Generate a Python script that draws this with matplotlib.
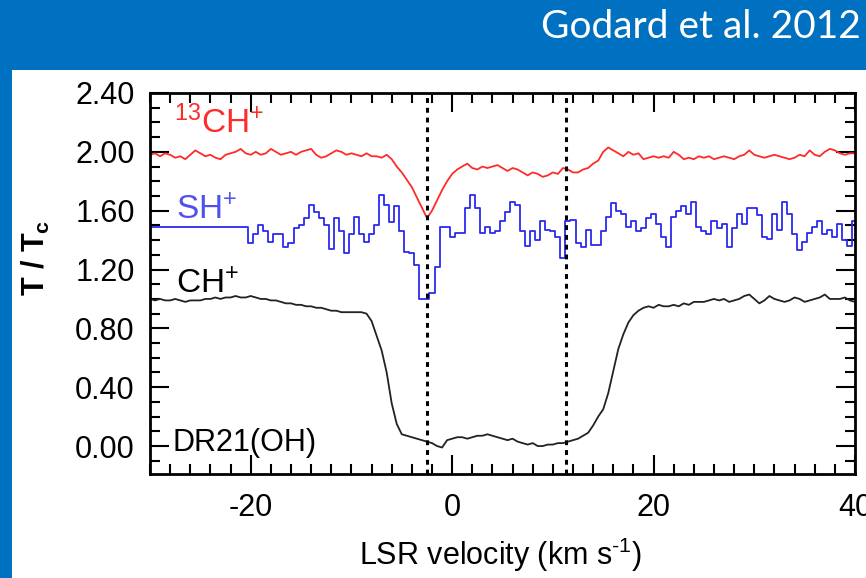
import numpy as np
import matplotlib.pyplot as plt
from matplotlib.patches import Rectangle
from matplotlib.ticker import MultipleLocator, FormatStrFormatter

plt.rcParams['font.family'] = ['Liberation Sans', 'DejaVu Sans']
plt.rcParams['mathtext.fontset'] = 'custom'
plt.rcParams['mathtext.rm'] = 'Liberation Sans'
plt.rcParams['mathtext.it'] = 'Liberation Sans:italic'
plt.rcParams['mathtext.bf'] = 'Liberation Sans:bold'
plt.rcParams['axes.unicode_minus'] = False

# channel velocities (km/s), 0.5 km/s spacing from -30 to 40
vel = np.arange(-30, 40.25, 0.5)

# CH+ (black)
ch_plus = [
    1.00, 0.99, 1.00, 0.99, 0.99, 1.00, 0.99, 0.98, 0.99, 0.99,
    0.99, 1.00, 1.00, 1.01, 1.00, 1.01, 1.01, 1.02, 1.01, 1.01,
    1.02, 1.01, 1.00, 1.00, 0.99, 0.99, 0.98, 0.97, 0.97, 0.96,
    0.96, 0.95, 0.95, 0.94, 0.94, 0.93, 0.92, 0.92, 0.91, 0.91,
    0.91, 0.91, 0.91, 0.90, 0.85, 0.75, 0.65, 0.50, 0.29, 0.15,
    0.08, 0.07, 0.06, 0.05, 0.04, 0.03, 0.02, 0.00, -0.01, 0.04,
    0.05, 0.06, 0.06, 0.05, 0.06, 0.07, 0.07, 0.08, 0.07, 0.06,
    0.05, 0.04, 0.05, 0.03, 0.02, 0.01, 0.02, 0.00, 0.00, 0.01,
    0.01, 0.02, 0.02, 0.03, 0.04, 0.05, 0.07, 0.09, 0.14, 0.20,
    0.25, 0.36, 0.51, 0.66, 0.76, 0.84, 0.89, 0.92, 0.94, 0.95,
    0.94, 0.96, 0.95, 0.95, 0.96, 0.95, 0.97, 0.96, 0.98, 0.98,
    0.98, 0.99, 1.00, 0.99, 1.00, 0.98, 0.99, 1.00, 1.02, 1.03,
    1.00, 0.97, 0.99, 1.02, 1.00, 0.99, 0.98, 0.99, 1.01, 1.00,
    0.98, 0.99, 1.00, 1.01, 1.03, 1.00, 1.00, 1.00, 1.01, 0.99,
    0.98,
]

# 13CH+ (red, offset by +1)
ch13_plus = [
    1.98, 1.99, 1.97, 1.99, 1.98, 1.96, 1.97, 1.95, 1.98, 2.01,
    1.99, 1.97, 1.98, 1.96, 1.95, 1.98, 1.99, 2.00, 2.02, 1.99,
    1.98, 2.00, 1.98, 1.99, 2.02, 2.00, 1.98, 1.99, 2.00, 1.98,
    2.00, 2.01, 2.02, 1.98, 1.96, 1.97, 1.99, 2.01, 2.00, 1.98,
    1.99, 1.98, 1.97, 1.99, 1.97, 1.97, 1.96, 1.98, 1.95, 1.90,
    1.86, 1.81, 1.76, 1.69, 1.62, 1.55, 1.60, 1.67, 1.74, 1.80,
    1.85, 1.88, 1.90, 1.92, 1.89, 1.88, 1.90, 1.89, 1.90, 1.91,
    1.89, 1.87, 1.89, 1.88, 1.86, 1.84, 1.86, 1.85, 1.83, 1.84,
    1.86, 1.85, 1.89, 1.88, 1.86, 1.86, 1.88, 1.89, 1.92, 1.94,
    2.00, 2.03, 2.01, 1.99, 1.97, 2.00, 1.98, 1.99, 1.95, 1.96,
    1.97, 1.96, 1.97, 1.96, 2.00, 1.98, 1.95, 1.96, 1.95, 1.97,
    1.96, 1.97, 1.95, 1.96, 1.97, 1.96, 1.95, 1.97, 1.98, 2.01,
    1.98, 1.97, 1.96, 1.97, 1.98, 1.97, 1.96, 1.95, 1.96, 1.98,
    1.97, 2.01, 1.98, 1.97, 2.00, 2.02, 2.01, 1.99, 1.98, 1.99,
    1.99,
]

# SH+ (blue, offset by +0.5)
sh_plus = [
    1.49, 1.49, 1.49, 1.49, 1.49, 1.49, 1.49, 1.49, 1.49, 1.49,
    1.49, 1.49, 1.49, 1.49, 1.49, 1.49, 1.49, 1.49, 1.49, 1.49,
    1.38, 1.44, 1.50, 1.46, 1.39, 1.44, 1.44, 1.35, 1.38, 1.48,
    1.50, 1.55, 1.64, 1.59, 1.55, 1.50, 1.34, 1.55, 1.46, 1.31,
    1.44, 1.56, 1.44, 1.39, 1.44, 1.50, 1.71, 1.64, 1.52, 1.63,
    1.46, 1.32, 1.31, 1.23, 1.00, 1.00, 1.04, 1.22, 1.49, 1.49,
    1.42, 1.45, 1.45, 1.62, 1.71, 1.62, 1.45, 1.49, 1.45, 1.46,
    1.53, 1.59, 1.66, 1.64, 1.46, 1.36, 1.46, 1.40, 1.53, 1.47,
    1.46, 1.42, 1.28, 1.53, 1.54, 1.38, 1.35, 1.47, 1.37, 1.37,
    1.46, 1.56, 1.65, 1.60, 1.58, 1.49, 1.53, 1.46, 1.48, 1.55,
    1.58, 1.51, 1.42, 1.35, 1.56, 1.60, 1.63, 1.58, 1.66, 1.49,
    1.46, 1.44, 1.53, 1.48, 1.51, 1.35, 1.48, 1.58, 1.51, 1.62,
    1.62, 1.57, 1.42, 1.41, 1.58, 1.47, 1.66, 1.58, 1.44, 1.33,
    1.39, 1.45, 1.49, 1.53, 1.44, 1.47, 1.42, 1.51, 1.40, 1.36,
    1.53,
]

vlines = [-2.5, 11.3]

W, H = 866, 578
fig = plt.figure(figsize=(W / 100, H / 100), dpi=100, facecolor='#0070c0')
fig.patches.append(Rectangle((12 / W, 0), 1, (H - 70) / H, transform=fig.transFigure,
                             facecolor='white', edgecolor='none', zorder=-1))
fig.text(861 / W, 1 - 27 / H, "Godard et al. 2012", color='white', fontsize=28,
         ha='right', va='center', family=['Lato', 'DejaVu Sans'])

ax = fig.add_axes([150 / W, (H - 474) / H, 705 / W, 381 / H])

ax.plot(vel, ch13_plus, color='#ff2a2a', lw=1.3)
ax.plot(vel, sh_plus, color='#2b2bf0', lw=1.3, drawstyle='steps-mid')
ax.plot(vel, ch_plus, color='#222222', lw=1.3)
for v in vlines:
    ax.axvline(v, color='black', lw=2.2, linestyle=(0, (1.6, 1.6)))

ax.text(-27.6, 2.20, r'$\mathregular{^{13}CH^{+}}$', color='#ff2a2a', fontsize=24, va='center')
ax.text(-27.4, 1.60, r'$\mathregular{SH^{+}}$', color='#5050ee', fontsize=24, va='center')
ax.text(-27.4, 1.10, r'$\mathregular{CH^{+}}$', color='black', fontsize=24, va='center')
ax.text(-27.8, 0.02, 'DR21(OH)', color='black', fontsize=22, va='center')

ax.set_xlim(-30, 40)
ax.set_ylim(-0.19, 2.40)
ax.xaxis.set_major_locator(MultipleLocator(20))
ax.xaxis.set_minor_locator(MultipleLocator(2))
ax.yaxis.set_major_locator(MultipleLocator(0.4))
ax.yaxis.set_minor_locator(MultipleLocator(0.1))
ax.yaxis.set_major_formatter(FormatStrFormatter('%.2f'))
ax.tick_params(which='both', direction='in', top=True, right=True, width=1.5, labelsize=22)
ax.tick_params(which='major', length=14)
ax.tick_params(which='minor', length=7)
ax.tick_params(axis='y', pad=11)
ax.tick_params(axis='x', pad=14)
for s in ax.spines.values():
    s.set_linewidth(2)

fig.text(501 / W, 1 - 555 / H, 'LSR velocity (km s$^{\\mathregular{\u2010}1}$)', fontsize=22,
         ha='center', va='center')
fig.text(36 / W, 1 - 258 / H, r'T / T$_{\mathregular{c}}$', fontsize=22, weight='bold',
         rotation=90, ha='center', va='center')

fig.savefig('out.png', dpi=100, facecolor=fig.get_facecolor())
